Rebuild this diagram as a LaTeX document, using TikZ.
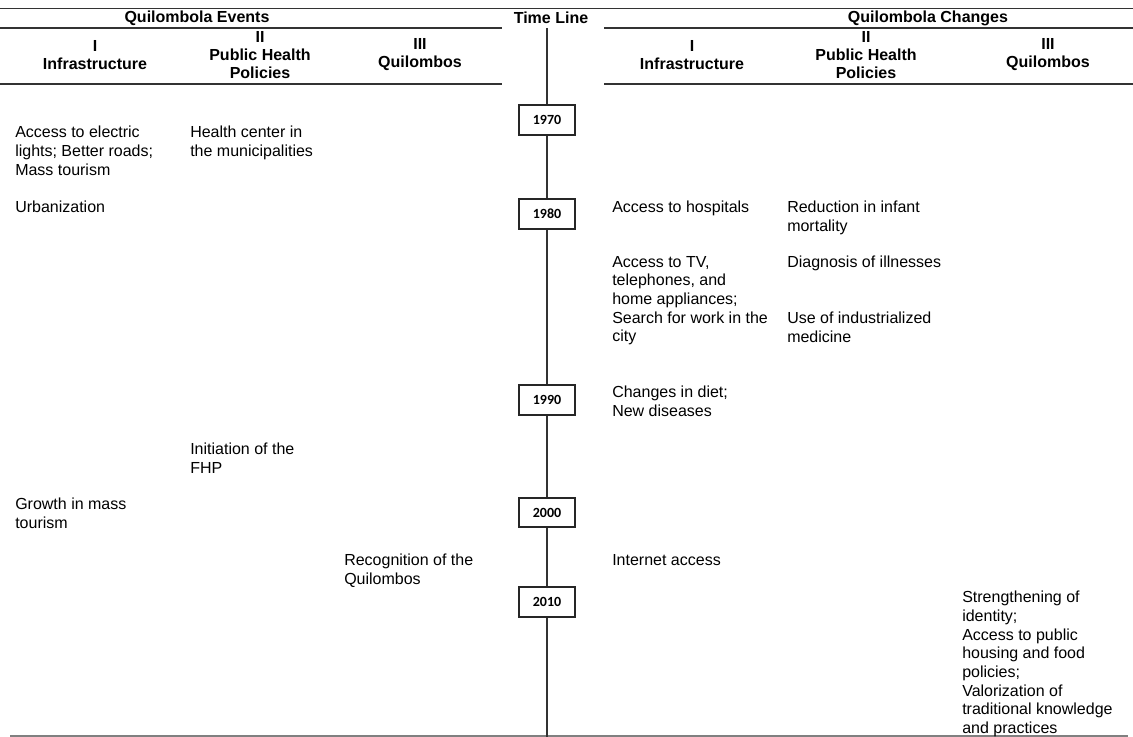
\documentclass[tikz,border=0pt]{standalone}
\usepackage{fontspec}
\setmainfont{Liberation Sans}
\newfontfamily\yearfont{Carlito}
\begin{document}
\begin{tikzpicture}[x=0.75pt,y=-0.75pt,
  rule/.style={draw=black!80,line width=0.9pt},
  hdr/.style={font=\bfseries\fontsize{12}{13.5}\selectfont,align=center,inner sep=0pt},
  cell/.style={font=\fontsize{12}{14}\selectfont,align=left,anchor=north west,inner sep=0pt},
  yearbox/.style={draw=black!85,line width=1.3pt,minimum width=42pt,minimum height=22pt,inner sep=0pt,font=\yearfont\bfseries\fontsize{10.5}{12}\selectfont,fill=white},
  tline/.style={draw=black!80,line width=1.1pt}]
\useasboundingbox (0,0) rectangle (1133,737);
% table rules
\coordinate (tl) at (0,8.5); \coordinate (tr) at (1133,8.5);
\draw[rule] (tl) -- (tr);
\coordinate (la) at (0,28); \coordinate (lb) at (502,28);
\coordinate (lc) at (0,84); \coordinate (ld) at (502,84);
\coordinate (ra) at (604,28); \coordinate (rb) at (1133,28);
\coordinate (rc) at (604,84); \coordinate (rd) at (1133,84);
\draw[rule] (la) -- (lb);
\draw[rule] (lc) -- (ld);
\draw[rule] (ra) -- (rb);
\draw[rule] (rc) -- (rd);
\coordinate (bl) at (10,736); \coordinate (br) at (1128,736);
\draw[draw=black!50,line width=0.9pt] (bl) -- (br);
% headers
\node[hdr] (hev) at (197,18) {Quilombola Events};
\node[hdr] (htl) at (551,18) {Time Line};
\node[hdr] (hch) at (928,18) {Quilombola Changes};
\node[hdr] (hl1) at (95,55) {I\\Infrastructure};
\node[hdr] (hl2) at (260,55) {II\\Public Health\\Policies};
\node[hdr] (hl3) at (420,55) {III\\Quilombos};
\node[hdr] (hr1) at (692,55) {I\\Infrastructure};
\node[hdr] (hr2) at (866,55) {II\\Public Health\\Policies};
\node[hdr] (hr3) at (1048,55) {III\\Quilombos};
% time line
\coordinate (ttop) at (547,28);
\coordinate (tbot) at (547,737);
\draw[tline] (ttop) -- (tbot);
\node[yearbox] (y1970) at (547,120) {1970};
\node[yearbox] (y1980) at (547,214) {1980};
\node[yearbox] (y1990) at (547,400) {1990};
\node[yearbox] (y2000) at (547,512.5) {2000};
\node[yearbox] (y2010) at (547,602) {2010};
% events
\node[cell] (e1) at (15,126) {Access to electric\\lights; Better roads;\\Mass tourism};
\node[cell] (e2) at (190,126) {Health center in\\the municipalities};
\node[cell] (e3) at (15,201) {Urbanization};
\node[cell] (e4) at (190,443) {Initiation of the\\FHP};
\node[cell] (e5) at (15,498) {Growth in mass\\tourism};
\node[cell] (e6) at (344,554) {Recognition of the\\Quilombos};
% changes
\node[cell] (c1) at (612,201) {Access to hospitals};
\node[cell] (c2) at (787,201) {Reduction in infant\\mortality};
\node[cell] (c3) at (612,256) {Access to TV,\\telephones, and\\home appliances;\\Search for work in the\\city};
\node[cell] (c4) at (787,256) {Diagnosis of illnesses};
\node[cell] (c5) at (787,312) {Use of industrialized\\medicine};
\node[cell] (c6) at (612,386) {Changes in diet;\\New diseases};
\node[cell] (c7) at (612,554) {Internet access};
\node[cell] (c8) at (962,591) {Strengthening of\\identity;\\Access to public\\housing and food\\policies;\\Valorization of\\traditional knowledge\\and practices};
\end{tikzpicture}
\end{document}
